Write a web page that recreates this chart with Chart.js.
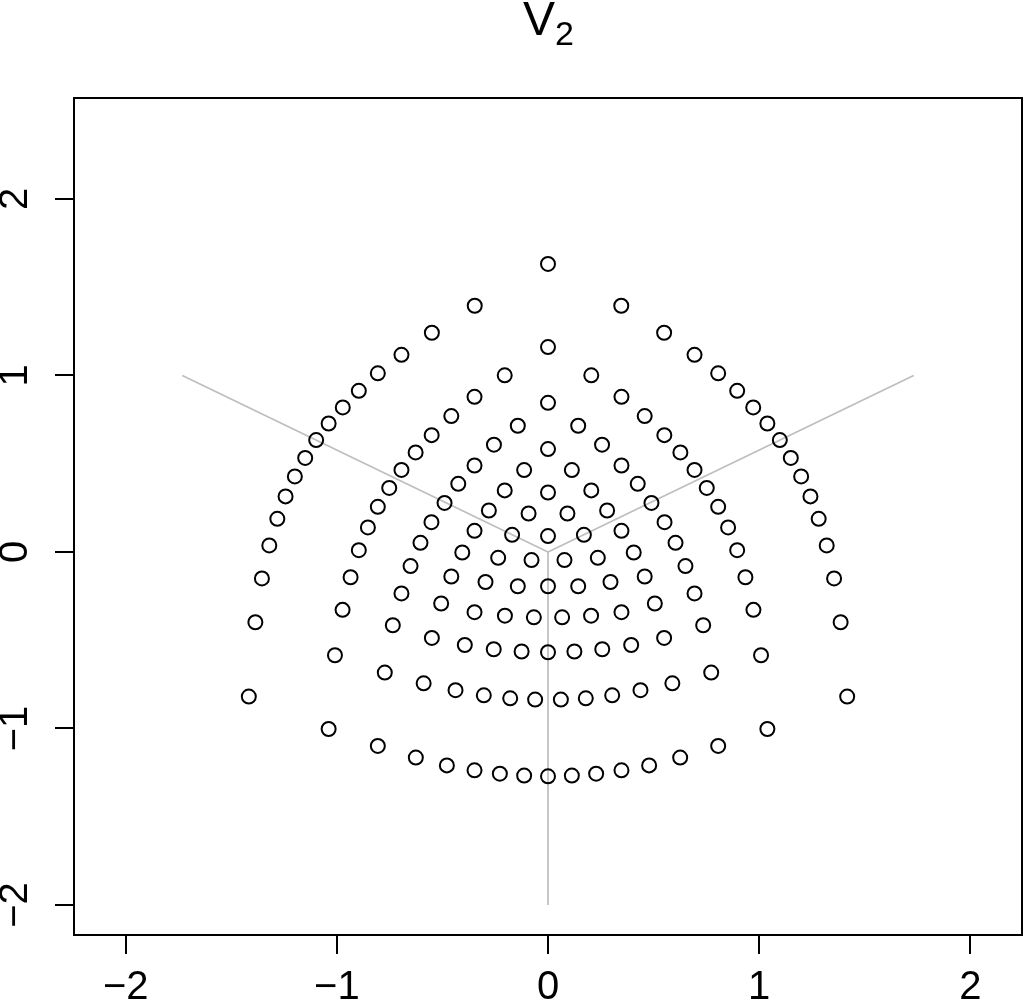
<!DOCTYPE html>
<html>
<head>
<meta charset="utf-8">
<script src="https://cdn.jsdelivr.net/npm/chart.js@4"></script>
<style>
  html, body { margin: 0; padding: 0; background: #fff; }
  canvas { display: block; }
</style>
</head>
<body>
<canvas id="myChart" width="1024" height="1003"></canvas>
<script>
// rings of points (outer ring first)
const ringAX = [0, -0.347, -0.550, -0.694, -0.806, -0.896, -0.972, -1.039, -1.098, -1.150, -1.199, -1.243, -1.282, -1.320, -1.355, -1.386, -1.417,
  -1.039, -0.806, -0.626, -0.479, -0.348, -0.228, -0.113, 0, 0.113, 0.228, 0.348, 0.479, 0.626, 0.806, 1.039,
  1.417, 1.386, 1.355, 1.320, 1.282, 1.243, 1.199, 1.150, 1.098, 1.039, 0.972, 0.896, 0.806, 0.694, 0.550, 0.347];
const ringAY = [1.632, 1.395, 1.242, 1.117, 1.012, 0.913, 0.819, 0.728, 0.634, 0.533, 0.428, 0.315, 0.188, 0.037, -0.150, -0.398, -0.819,
  -1.003, -1.099, -1.165, -1.209, -1.237, -1.256, -1.267, -1.271, -1.267, -1.256, -1.237, -1.209, -1.165, -1.099, -1.003,
  -0.819, -0.398, -0.150, 0.037, 0.188, 0.315, 0.428, 0.533, 0.634, 0.728, 0.819, 0.913, 1.012, 1.117, 1.242, 1.395];

const ringBX = [0, -0.205, -0.348, -0.458, -0.551, -0.627, -0.694, -0.752, -0.806, -0.853, -0.896, -0.935, -0.973, -1.009,
  -0.773, -0.589, -0.438, -0.304, -0.179, -0.061, 0.061, 0.179, 0.304, 0.438, 0.589, 0.773,
  1.009, 0.973, 0.935, 0.896, 0.853, 0.806, 0.752, 0.694, 0.627, 0.551, 0.458, 0.348, 0.205];
const ringBY = [1.161, 1.001, 0.879, 0.770, 0.662, 0.564, 0.465, 0.363, 0.256, 0.139, 0.010, -0.143, -0.328, -0.585,
  -0.683, -0.744, -0.783, -0.812, -0.829, -0.836, -0.836, -0.829, -0.812, -0.783, -0.744, -0.683,
  -0.585, -0.328, -0.143, 0.010, 0.139, 0.256, 0.363, 0.465, 0.564, 0.662, 0.770, 0.879, 1.001];

const ringCX = [0, -0.143, -0.256, -0.348, -0.425, -0.490, -0.552, -0.604, -0.651, -0.694, -0.735,
  -0.550, -0.394, -0.257, -0.125, 0, 0.125, 0.257, 0.394, 0.550,
  0.735, 0.694, 0.651, 0.604, 0.552, 0.490, 0.425, 0.348, 0.256, 0.143];
const ringCY = [0.845, 0.715, 0.608, 0.490, 0.386, 0.278, 0.169, 0.052, -0.080, -0.235, -0.415,
  -0.487, -0.527, -0.551, -0.564, -0.568, -0.564, -0.551, -0.527, -0.487,
  -0.415, -0.235, -0.080, 0.052, 0.169, 0.278, 0.386, 0.490, 0.608, 0.715];

const ringDX = [0, -0.113, -0.205, -0.280, -0.348, -0.406, -0.458, -0.506, -0.348, -0.204, -0.067,
  0.067, 0.204, 0.348, 0.506, 0.458, 0.406, 0.348, 0.280, 0.205, 0.113];
const ringDY = [0.583, 0.464, 0.349, 0.235, 0.120, -0.003, -0.139, -0.292, -0.341, -0.361, -0.370,
  -0.370, -0.361, -0.341, -0.292, -0.139, -0.003, 0.120, 0.235, 0.349, 0.464];

const ringEX = [0, -0.092, -0.170, -0.236, -0.296, -0.143, 0, 0.143, 0.296, 0.236, 0.170, 0.092];
const ringEY = [0.337, 0.218, 0.097, -0.033, -0.170, -0.194, -0.194, -0.194, -0.170, -0.033, 0.097, 0.218];

const ringFX = [0, -0.078, 0.078];
const ringFY = [0.090, -0.046, -0.046];

// grey arms from the origin
const armX = [-1.732, 1.732, 0];
const armY = [1, 1, -2];

const xTicks = [-2, -1, 0, 1, 2];
const yTicks = [-2, -1, 0, 1, 2];

const allX = [].concat(ringAX, ringBX, ringCX, ringDX, ringEX, ringFX);
const allY = [].concat(ringAY, ringBY, ringCY, ringDY, ringEY, ringFY);
const points = allX.map((x, i) => ({ x: x, y: allY[i] }));

const fmt = v => (v < 0 ? '\u2212' + Math.abs(v) : String(v));
const tickFont = { family: 'Liberation Sans', size: 40 };

const armSets = armX.map((x, i) => ({
  type: 'line',
  data: [{ x: 0, y: 0 }, { x: x, y: armY[i] }],
  borderColor: '#bebebe',
  borderWidth: 1.7,
  pointRadius: 0,
  fill: false,
  order: 2
}));

// box around the plot and the V_2 title
const frame = {
  id: 'frame',
  afterDraw(chart) {
    const { ctx, chartArea: a } = chart;
    ctx.save();
    ctx.strokeStyle = '#000';
    ctx.lineWidth = 2;
    ctx.strokeRect(a.left, a.top, a.right - a.left, a.bottom - a.top);
    ctx.fillStyle = '#000';
    ctx.textBaseline = 'alphabetic';
    ctx.textAlign = 'left';
    ctx.font = '48px "Liberation Sans"';
    ctx.fillText('V', 523, 35);
    ctx.font = '34px "Liberation Sans"';
    ctx.fillText('2', 555, 45);
    ctx.restore();
  }
};

const ctx = document.getElementById('myChart').getContext('2d');

new Chart(ctx, {
  type: 'scatter',
  data: {
    datasets: [
      {
        data: points,
        pointStyle: 'circle',
        pointRadius: 7,
        pointHoverRadius: 7,
        backgroundColor: 'rgba(0,0,0,0)',
        borderColor: '#000',
        borderWidth: 2,
        order: 1
      },
      ...armSets
    ]
  },
  options: {
    responsive: false,
    animation: false,
    devicePixelRatio: 1,
    layout: { autoPadding: false, padding: { top: 98, right: 2, left: 0, bottom: 0 } },
    plugins: {
      legend: { display: false },
      title: { display: false },
      tooltip: { enabled: false }
    },
    scales: {
      x: {
        type: 'linear',
        min: -2.245,
        max: 2.245,
        afterBuildTicks: s => { s.ticks = xTicks.map(v => ({ value: v })); },
        afterFit: s => { s.height = 68; s.paddingLeft = 0; s.paddingRight = 0; },
        grid: { drawOnChartArea: false, drawTicks: true, tickLength: 19, color: '#000', lineWidth: 2 },
        border: { display: true, color: '#000', width: 2 },
        ticks: { color: '#000', font: tickFont, padding: 10, maxRotation: 0, autoSkip: false, callback: fmt }
      },
      y: {
        type: 'linear',
        min: -2.17,
        max: 2.572,
        afterBuildTicks: s => { s.ticks = yTicks.map(v => ({ value: v })); },
        afterFit: s => { s.width = 74; s.paddingTop = 0; s.paddingBottom = 0; },
        grid: { drawOnChartArea: false, drawTicks: true, tickLength: 19, color: '#000', lineWidth: 2 },
        border: { display: true, color: '#000', width: 2 },
        ticks: { color: '#000', font: tickFont, padding: 16, minRotation: 90, maxRotation: 90, crossAlign: 'center', autoSkip: false, callback: fmt }
      }
    }
  },
  plugins: [frame]
});
</script>
</body>
</html>
